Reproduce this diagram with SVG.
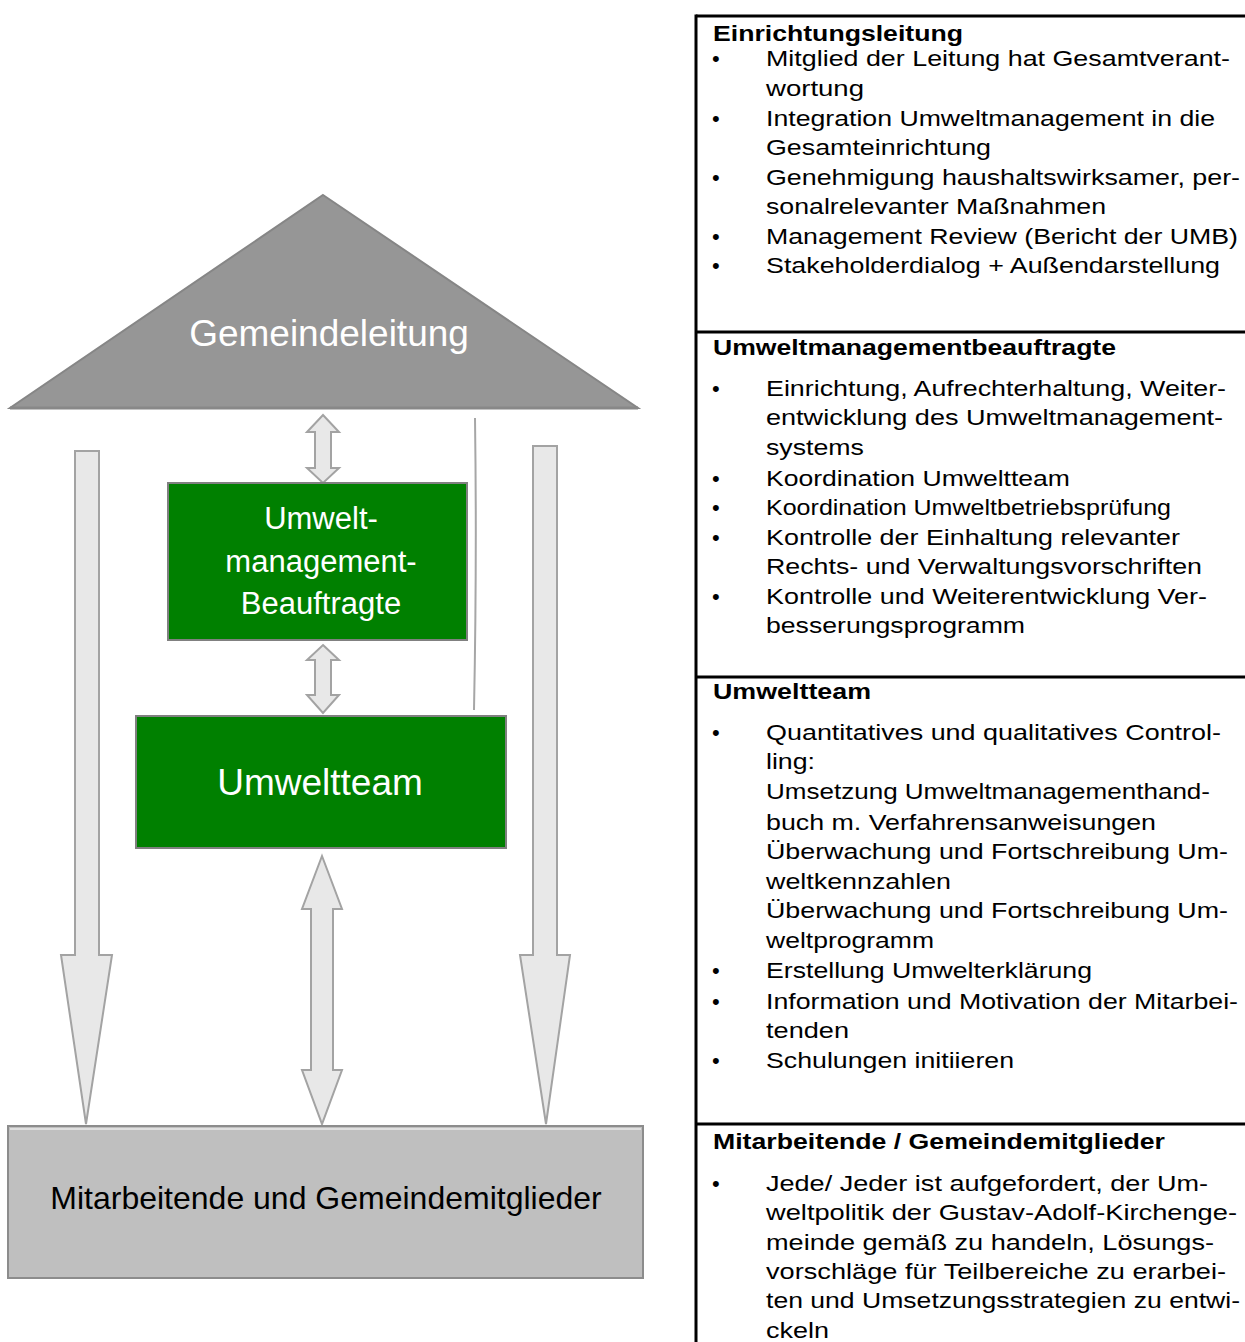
<svg xmlns="http://www.w3.org/2000/svg" width="1245" height="1342" viewBox="0 0 1245 1342">
<style>
.arrow{fill:#e8e8e8;stroke:#a3a3a3;stroke-width:2;stroke-linejoin:miter}
.lbl{font-family:"Liberation Sans",Arial,sans-serif;fill:#ffffff;text-anchor:middle}
.hd{font-family:"Liberation Sans",Arial,sans-serif;font-weight:bold;font-size:22px;fill:#000}
.tx{font-family:"Liberation Sans",Arial,sans-serif;font-size:22px;fill:#000}
.rule{stroke:#000;stroke-width:3}
</style>
<rect width="1245" height="1342" fill="#ffffff"/>

<g id="connectors">
  <polygon class="arrow" points="323,415 339,432 331,432 331,468 339,468 323,483 307,468 315,468 315,432 307,432"/>
  <polygon class="arrow" points="323,645 339,660 331,660 331,695 339,695 323,713 307,695 315,695 315,660 307,660"/>
  <polygon class="arrow" points="322,856 342,909 333,909 333,1070 342,1070 322,1124 302,1070 311,1070 311,909 302,909"/>
  <polygon class="arrow" points="75,451 99,451 99,955 112,955 86,1124 61,955 75,955"/>
  <polygon class="arrow" points="533,446 557,446 557,955 570,955 546,1124 520,955 533,955"/>
  <path d="M475,418 Q477,560 474,710" fill="none" stroke="#a6a6a6" stroke-width="2"/>
</g>

<g id="gemeindeleitung">
  <polygon points="323,195 638,408 10,408" fill="#969696" stroke="#868686" stroke-width="2"/>
  <line x1="10" y1="408" x2="638" y2="408" stroke="#888888" stroke-width="3"/>
  <text class="lbl" x="329" y="346" font-size="37">Gemeindeleitung</text>
</g>

<g id="umb">
  <rect x="168" y="483" width="299" height="157" fill="#008000" stroke="#808080" stroke-width="2"/>
  <text class="lbl" x="321" y="529" font-size="31">Umwelt-</text>
  <text class="lbl" x="321" y="572" font-size="31">management-</text>
  <text class="lbl" x="321" y="614" font-size="31">Beauftragte</text>
</g>

<g id="umweltteam">
  <rect x="136" y="716" width="370" height="132" fill="#008000" stroke="#808080" stroke-width="2"/>
  <text class="lbl" x="320" y="795" font-size="37">Umweltteam</text>
</g>

<g id="mitarbeitende">
  <rect x="8" y="1126" width="635" height="152" fill="#bfbfbf" stroke="#8c8c8c" stroke-width="2"/>
  <line x1="10" y1="1129" x2="641" y2="1129" stroke="#ffffff" stroke-width="1"/>
  <text x="326" y="1209" font-size="32" text-anchor="middle" font-family="'Liberation Sans',Arial,sans-serif" fill="#000">Mitarbeitende und Gemeindemitglieder</text>
</g>

<g id="panel-frame">
  <line class="rule" x1="696" y1="16" x2="1245" y2="16"/>
  <line class="rule" x1="696" y1="14.5" x2="696" y2="1342"/>
  <line class="rule" x1="696" y1="332" x2="1245" y2="332"/>
  <line class="rule" x1="696" y1="677" x2="1245" y2="677"/>
  <line class="rule" x1="696" y1="1124" x2="1245" y2="1124"/>
</g>

<g id="einrichtungsleitung">
  <text class="hd" x="713" y="41" textLength="250" lengthAdjust="spacingAndGlyphs">Einrichtungsleitung</text>
  <text class="tx" x="712" y="66">•</text>
  <text class="tx" x="766" y="66" textLength="464" lengthAdjust="spacingAndGlyphs">Mitglied der Leitung hat Gesamtverant-</text>
  <text class="tx" x="766" y="96" textLength="98" lengthAdjust="spacingAndGlyphs">wortung</text>
  <text class="tx" x="712" y="126">•</text>
  <text class="tx" x="766" y="126" textLength="449" lengthAdjust="spacingAndGlyphs">Integration Umweltmanagement in die</text>
  <text class="tx" x="766" y="155" textLength="225" lengthAdjust="spacingAndGlyphs">Gesamteinrichtung</text>
  <text class="tx" x="712" y="185">•</text>
  <text class="tx" x="766" y="185" textLength="474" lengthAdjust="spacingAndGlyphs">Genehmigung haushaltswirksamer, per-</text>
  <text class="tx" x="766" y="214" textLength="340" lengthAdjust="spacingAndGlyphs">sonalrelevanter Maßnahmen</text>
  <text class="tx" x="712" y="244">•</text>
  <text class="tx" x="766" y="244" textLength="472" lengthAdjust="spacingAndGlyphs">Management Review (Bericht der UMB)</text>
  <text class="tx" x="712" y="273">•</text>
  <text class="tx" x="766" y="273" textLength="454" lengthAdjust="spacingAndGlyphs">Stakeholderdialog + Außendarstellung</text>
</g>

<g id="umweltmanagementbeauftragte">
  <text class="hd" x="713" y="355" textLength="403" lengthAdjust="spacingAndGlyphs">Umweltmanagementbeauftragte</text>
  <text class="tx" x="712" y="396">•</text>
  <text class="tx" x="766" y="396" textLength="460" lengthAdjust="spacingAndGlyphs">Einrichtung, Aufrechterhaltung, Weiter-</text>
  <text class="tx" x="766" y="425" textLength="457" lengthAdjust="spacingAndGlyphs">entwicklung  des Umweltmanagement-</text>
  <text class="tx" x="766" y="455" textLength="98" lengthAdjust="spacingAndGlyphs">systems</text>
  <text class="tx" x="712" y="486">•</text>
  <text class="tx" x="766" y="486" textLength="304" lengthAdjust="spacingAndGlyphs">Koordination Umweltteam</text>
  <text class="tx" x="712" y="515">•</text>
  <text class="tx" x="766" y="515" textLength="405" lengthAdjust="spacingAndGlyphs">Koordination Umweltbetriebsprüfung</text>
  <text class="tx" x="712" y="545">•</text>
  <text class="tx" x="766" y="545" textLength="414" lengthAdjust="spacingAndGlyphs">Kontrolle der Einhaltung relevanter</text>
  <text class="tx" x="766" y="574" textLength="436" lengthAdjust="spacingAndGlyphs">Rechts- und Verwaltungsvorschriften</text>
  <text class="tx" x="712" y="604">•</text>
  <text class="tx" x="766" y="604" textLength="441" lengthAdjust="spacingAndGlyphs">Kontrolle und Weiterentwicklung Ver-</text>
  <text class="tx" x="766" y="633" textLength="259" lengthAdjust="spacingAndGlyphs">besserungsprogramm</text>
</g>

<g id="umweltteam-text">
  <text class="hd" x="713" y="699" textLength="158" lengthAdjust="spacingAndGlyphs">Umweltteam</text>
  <text class="tx" x="712" y="740">•</text>
  <text class="tx" x="766" y="740" textLength="455" lengthAdjust="spacingAndGlyphs">Quantitatives und qualitatives Control-</text>
  <text class="tx" x="766" y="769" textLength="49" lengthAdjust="spacingAndGlyphs">ling:</text>
  <text class="tx" x="766" y="799" textLength="444" lengthAdjust="spacingAndGlyphs">Umsetzung Umweltmanagementhand-</text>
  <text class="tx" x="766" y="830" textLength="390" lengthAdjust="spacingAndGlyphs">buch m. Verfahrensanweisungen</text>
  <text class="tx" x="766" y="859" textLength="462" lengthAdjust="spacingAndGlyphs">Überwachung und Fortschreibung Um-</text>
  <text class="tx" x="766" y="889" textLength="185" lengthAdjust="spacingAndGlyphs">weltkennzahlen</text>
  <text class="tx" x="766" y="918" textLength="462" lengthAdjust="spacingAndGlyphs">Überwachung und Fortschreibung Um-</text>
  <text class="tx" x="766" y="948" textLength="168" lengthAdjust="spacingAndGlyphs">weltprogramm</text>
  <text class="tx" x="712" y="978">•</text>
  <text class="tx" x="766" y="978" textLength="326" lengthAdjust="spacingAndGlyphs">Erstellung Umwelterklärung</text>
  <text class="tx" x="712" y="1009">•</text>
  <text class="tx" x="766" y="1009" textLength="472" lengthAdjust="spacingAndGlyphs">Information und Motivation der Mitarbei-</text>
  <text class="tx" x="766" y="1038" textLength="83" lengthAdjust="spacingAndGlyphs">tenden</text>
  <text class="tx" x="712" y="1068">•</text>
  <text class="tx" x="766" y="1068" textLength="248" lengthAdjust="spacingAndGlyphs">Schulungen initiieren</text>
</g>

<g id="mitarbeitende-text">
  <text class="hd" x="713" y="1149" textLength="452" lengthAdjust="spacingAndGlyphs">Mitarbeitende / Gemeindemitglieder</text>
  <text class="tx" x="712" y="1191">•</text>
  <text class="tx" x="766" y="1191" textLength="442" lengthAdjust="spacingAndGlyphs">Jede/ Jeder ist aufgefordert, der Um-</text>
  <text class="tx" x="766" y="1220" textLength="471" lengthAdjust="spacingAndGlyphs">weltpolitik der Gustav-Adolf-Kirchenge-</text>
  <text class="tx" x="766" y="1250" textLength="448" lengthAdjust="spacingAndGlyphs">meinde gemäß zu handeln,  Lösungs-</text>
  <text class="tx" x="766" y="1279" textLength="460" lengthAdjust="spacingAndGlyphs">vorschläge für Teilbereiche zu erarbei-</text>
  <text class="tx" x="766" y="1308" textLength="474" lengthAdjust="spacingAndGlyphs">ten und Umsetzungsstrategien zu entwi-</text>
  <text class="tx" x="766" y="1338" textLength="63" lengthAdjust="spacingAndGlyphs">ckeln</text>
</g>
</svg>
